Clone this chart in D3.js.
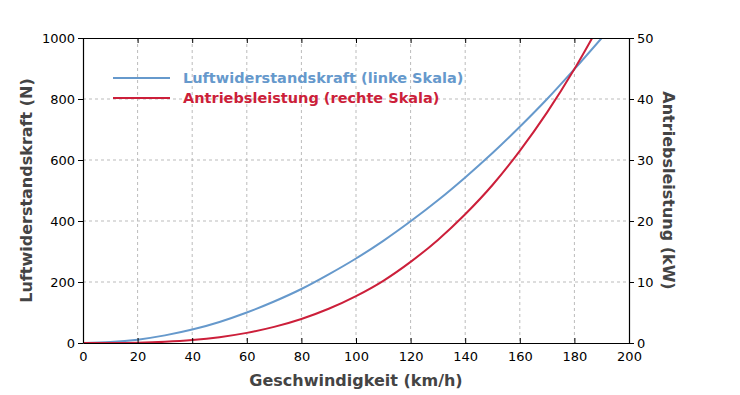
<!DOCTYPE html>
<html>
<head>
<meta charset="utf-8">
<script src="https://cdn.jsdelivr.net/npm/d3@7"></script>
<style>
  body { margin: 0; background: #fff; }
  text { font-family: Verdana, "DejaVu Sans", sans-serif; }
</style>
</head>
<body>
<div id="chart"></div>
<script>
// speed in km/h
var speeds = [0, 10, 20, 30, 40, 50, 60, 70, 80, 90, 100, 110, 120, 130, 140, 150, 160, 170, 180, 190];
// air drag force (N), left axis
var dragForce = [0, 3, 11, 25, 44, 69, 100, 136, 177, 225, 277, 335, 399, 468, 543, 623, 709, 800, 898, 1000];
// drive power (kW), right axis
var drivePower = [0, 0.01, 0.06, 0.21, 0.49, 0.96, 1.66, 2.64, 3.94, 5.61, 7.69, 10.2, 13.3, 16.9, 21.1, 25.9, 31.5, 37.8, 44.9, 52.8];

var xTicks = [0, 20, 40, 60, 80, 100, 120, 140, 160, 180, 200];
var leftTicks = [0, 200, 400, 600, 800, 1000];
var rightTicks = [0, 10, 20, 30, 40, 50];
var legendLabels = ["Luftwiderstandskraft (linke Skala)", "Antriebsleistung (rechte Skala)"];

var width = 740, height = 395;
var pLeft = 83, pRight = 629, pTop = 38, pBottom = 343;
var blue = "#6699cc", red = "#cc1f3a", axisText = "#444";

var svg = d3.select("#chart").append("svg")
    .attr("width", width)
    .attr("height", height);

var x = d3.scaleLinear().domain([0, 200]).range([pLeft, pRight]);
var yL = d3.scaleLinear().domain([0, 1000]).range([pBottom, pTop]);
var yR = d3.scaleLinear().domain([0, 50]).range([pBottom, pTop]);

// grid
var grid = svg.append("g").attr("stroke", "#bbb").attr("stroke-dasharray", "3,3");
grid.selectAll(".gx").data(xTicks.slice(1, -1)).enter().append("line")
    .attr("x1", d => x(d)).attr("x2", d => x(d))
    .attr("y1", pTop).attr("y2", pBottom);
grid.selectAll(".gy").data(leftTicks.slice(1, -1)).enter().append("line")
    .attr("x1", pLeft).attr("x2", pRight)
    .attr("y1", d => yL(d)).attr("y2", d => yL(d));

// lines
svg.append("clipPath").attr("id", "clip")
  .append("rect").attr("x", pLeft).attr("y", pTop)
    .attr("width", pRight - pLeft).attr("height", pBottom - pTop);

var dragLine = d3.line().x((d, i) => x(speeds[i])).y(d => yL(d)).curve(d3.curveMonotoneX);
var powerLine = d3.line().x((d, i) => x(speeds[i])).y(d => yR(d)).curve(d3.curveMonotoneX);

var plot = svg.append("g").attr("clip-path", "url(#clip)");
plot.append("path").datum(dragForce)
    .attr("d", dragLine).attr("fill", "none")
    .attr("stroke", blue).attr("stroke-width", 2);
plot.append("path").datum(drivePower)
    .attr("d", powerLine).attr("fill", "none")
    .attr("stroke", red).attr("stroke-width", 2);

// axes
var fmt = d3.format("d");
var axBottom = svg.append("g").attr("transform", "translate(0," + pBottom + ")")
    .call(d3.axisBottom(x).tickValues(xTicks).tickFormat(fmt).tickSizeInner(-5).tickSizeOuter(0).tickPadding(9));
var axTop = svg.append("g").attr("transform", "translate(0," + pTop + ")")
    .call(d3.axisTop(x).tickValues(xTicks).tickSizeInner(-5).tickSizeOuter(0).tickFormat(""));
var axLeft = svg.append("g").attr("transform", "translate(" + pLeft + ",0)")
    .call(d3.axisLeft(yL).tickValues(leftTicks).tickFormat(fmt).tickSizeInner(5).tickSizeOuter(0).tickPadding(3));
var axRight = svg.append("g").attr("transform", "translate(" + pRight + ",0)")
    .call(d3.axisRight(yR).tickValues(rightTicks).tickFormat(fmt).tickSizeInner(5).tickSizeOuter(0).tickPadding(3));

[axBottom, axTop, axLeft, axRight].forEach(function(a) {
  a.select(".domain").attr("stroke", "#000").attr("stroke-width", 1.2);
  a.selectAll(".tick line").attr("stroke", "#000");
  a.selectAll(".tick text").attr("fill", "#000").style("font-size", "13px")
    .style("font-family", "Verdana, 'DejaVu Sans', sans-serif");
});

// axis titles
svg.append("text")
    .attr("x", 356).attr("y", 386)
    .attr("text-anchor", "middle")
    .style("font-size", "16px").style("font-weight", "bold").attr("fill", axisText)
    .text("Geschwindigkeit (km/h)");
svg.append("text")
    .attr("transform", "translate(32," + ((pTop + pBottom) / 2) + ") rotate(-90)")
    .attr("text-anchor", "middle")
    .style("font-size", "16px").style("font-weight", "bold").attr("fill", axisText)
    .text("Luftwiderstandskraft (N)");
svg.append("text")
    .attr("transform", "translate(663," + ((pTop + pBottom) / 2) + ") rotate(90)")
    .attr("text-anchor", "middle")
    .style("font-size", "16px").style("font-weight", "bold").attr("fill", axisText)
    .text("Antriebsleistung (kW)");

// legend
var legend = svg.append("g");
var legendColors = [blue, red];
legendLabels.forEach(function(lbl, i) {
  var ly = 78 + i * 20;
  legend.append("line")
      .attr("x1", 113).attr("x2", 170).attr("y1", ly).attr("y2", ly)
      .attr("stroke", legendColors[i]).attr("stroke-width", 2);
  legend.append("text")
      .attr("x", 183).attr("y", ly + 5)
      .style("font-size", "14.5px").style("font-weight", "bold")
      .attr("fill", legendColors[i])
      .text(lbl);
});
</script>
</body>
</html>
